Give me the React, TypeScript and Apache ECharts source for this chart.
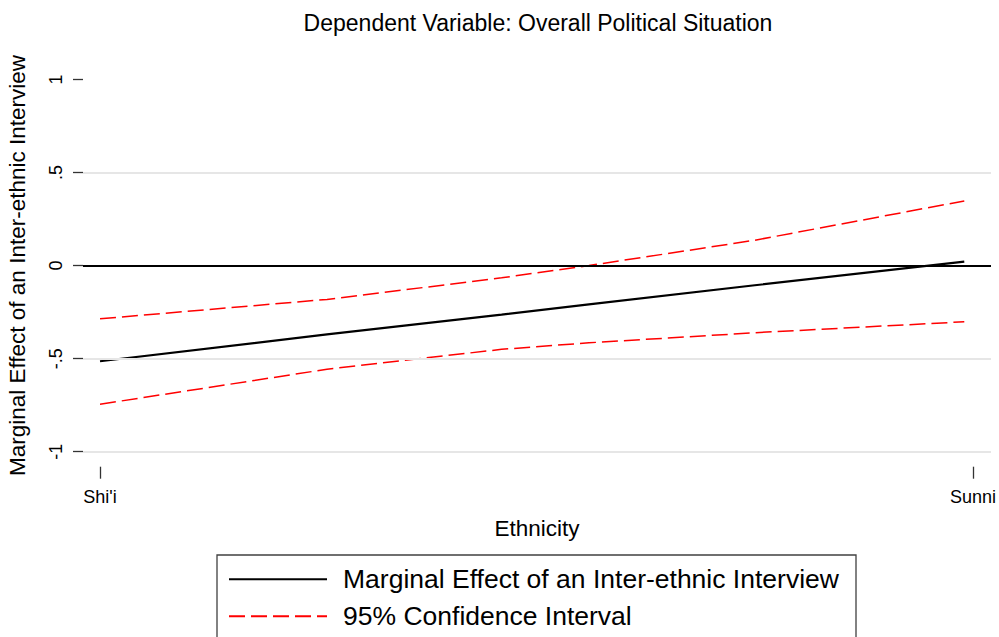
import React, { useEffect, useRef } from "react";
import * as echarts from "echarts";

const FONT = "'Liberation Sans', Arial, Helvetica, sans-serif";

const titleText = "Dependent Variable: Overall Political Situation";
const xAxisName = "Ethnicity";
const yAxisName = "Marginal Effect of an Inter-ethnic Interview";
const effectName = "Marginal Effect of an Inter-ethnic Interview";
const ciName = "95% Confidence Interval";

const xTickValues = [0, 1];
const xTickLabels = ["Shi'i", "Sunni"];
const yTickValues = [-1, -0.5, 0, 0.5, 1];
const yTickLabels = ["-1", "-.5", "0", ".5", "1"];
const gridValues = [0.5, -0.5, -1];
const refLineValue = 0;

const xValues = [0, 0.26, 0.46, 0.56, 0.75, 0.99];
const effect = [-0.514, -0.37, -0.264, -0.209, -0.106, 0.021];
const upperCI = [-0.286, -0.182, -0.066, 0.0, 0.136, 0.347];
const lowerCI = [-0.745, -0.557, -0.45, -0.415, -0.361, -0.302];

const pairs = (ys: number[]) => xValues.map((x, i) => [x, ys[i]]);

export default function App() {
  const ref = useRef<HTMLDivElement>(null);
  useEffect(() => {
    if (!ref.current) return;
    const chart = echarts.init(ref.current, null, { renderer: "svg" });
    const dash = [16, 6];
    chart.setOption({
      animation: false,
      backgroundColor: "#ffffff",
      textStyle: { fontFamily: FONT, color: "#000" },
      title: {
        text: titleText,
        left: 538,
        top: 11,
        textAlign: "center",
        padding: 0,
        textStyle: { fontFamily: FONT, fontSize: 23, fontWeight: "normal", color: "#000" },
      },
      grid: {
        left: 83,
        right: 8,
        top: 79.4,
        bottom: 185.3,
        containLabel: false,
        outerBoundsMode: "none",
      },
      xAxis: {
        type: "value",
        min: -0.0195,
        max: 1.0206,
        offset: 15,
        name: xAxisName,
        nameLocation: "middle",
        nameGap: 50,
        nameTextStyle: { fontFamily: FONT, fontSize: 22.5, color: "#000" },
        axisLine: { show: false, onZero: false },
        axisTick: {
          show: true,
          length: 12,
          customValues: xTickValues,
          lineStyle: { color: "#333", width: 1.3 },
        },
        axisLabel: {
          show: true,
          customValues: xTickValues,
          margin: 21,
          fontSize: 18,
          fontFamily: FONT,
          color: "#000",
          formatter: (v: number) => {
            const i = xTickValues.indexOf(v);
            return i >= 0 ? xTickLabels[i] : "";
          },
        },
        splitLine: { show: false },
      },
      yAxis: {
        type: "value",
        min: -1,
        max: 1,
        interval: 0.5,
        name: yAxisName,
        nameLocation: "middle",
        nameRotate: 90,
        nameGap: 54,
        nameTextStyle: { fontFamily: FONT, fontSize: 22.5, color: "#000" },
        axisLine: { show: false, onZero: false },
        axisTick: { show: true, length: 10, inside: false, lineStyle: { color: "#333", width: 1.3 } },
        axisLabel: {
          rotate: 90,
          margin: 18,
          fontSize: 18,
          fontFamily: FONT,
          color: "#000",
          formatter: (v: number) => {
            const i = yTickValues.indexOf(v);
            return i >= 0 ? yTickLabels[i] : "";
          },
        },
        splitLine: { show: false },
      },
      legend: {
        orient: "vertical",
        left: 228,
        top: 564.3,
        padding: 0,
        itemWidth: 98,
        itemHeight: 14,
        itemGap: 7,
        selectedMode: false,
        data: [effectName, ciName],
        itemStyle: { opacity: 0 },
        textStyle: {
          fontFamily: FONT,
          fontSize: 26.5,
          lineHeight: 30,
          color: "#000",
          padding: [0, 0, 0, 11],
        },
      },
      graphic: [
        {
          type: "rect",
          shape: { x: 217, y: 555, width: 639, height: 100 },
          style: { fill: "none", stroke: "#404040", lineWidth: 1.3 },
          silent: true,
        },
      ],
      series: [
        {
          name: "gridlines",
          type: "line",
          data: [],
          z: 1,
          silent: true,
          markLine: {
            silent: true,
            symbol: "none",
            label: { show: false },
            lineStyle: { color: "#e6e6e6", width: 2, type: "solid" },
            data: gridValues.map((v) => ({ yAxis: v })),
          },
        },
        {
          name: effectName,
          type: "line",
          data: pairs(effect),
          showSymbol: false,
          symbol: "none",
          smooth: false,
          z: 4,
          lineStyle: { color: "#000", width: 2.2, type: "solid" },
          itemStyle: { color: "#000" },
        },
        {
          name: ciName,
          type: "line",
          data: pairs(upperCI),
          showSymbol: false,
          symbol: "none",
          smooth: false,
          z: 3,
          lineStyle: { color: "#ff0000", width: 1.5, type: dash },
          itemStyle: { color: "#ff0000" },
        },
        {
          name: ciName,
          type: "line",
          data: pairs(lowerCI),
          showSymbol: false,
          symbol: "none",
          smooth: false,
          z: 3,
          lineStyle: { color: "#ff0000", width: 1.5, type: dash },
          itemStyle: { color: "#ff0000" },
        },
        {
          name: "zero",
          type: "line",
          data: [],
          z: 5,
          silent: true,
          markLine: {
            silent: true,
            symbol: "none",
            label: { show: false },
            lineStyle: { color: "#000", width: 2, type: "solid" },
            data: [{ yAxis: refLineValue }],
          },
        },
      ],
    });
    return () => chart.dispose();
  }, []);
  return (
    <div
      ref={ref}
      style={{ position: "fixed", left: 0, top: 0, width: 999, height: 637, background: "#fff" }}
    />
  );
}
